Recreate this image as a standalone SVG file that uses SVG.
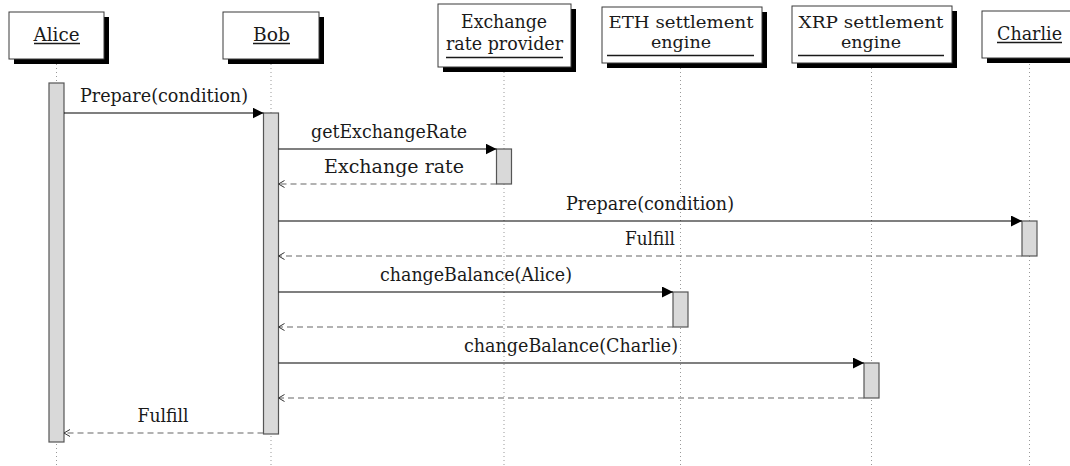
<svg xmlns="http://www.w3.org/2000/svg" width="1070" height="466" viewBox="0 0 1070 466">
  <defs>
    <marker id="callHead" markerUnits="userSpaceOnUse" markerWidth="12" markerHeight="12" refX="11" refY="5.5" orient="auto">
      <path d="M0,0 L11,5.5 L0,11 z" fill="#000"/>
    </marker>
    <marker id="returnHead" markerUnits="userSpaceOnUse" markerWidth="10" markerHeight="10" refX="7" refY="4" orient="auto">
      <path d="M1,0.5 L7,4 L1,7.5" fill="none" stroke="#333" stroke-width="1"/>
    </marker>
  </defs>
  <style>
    text { font-family: 'DejaVu Serif', 'Liberation Serif', serif; font-size: 19px; fill: #1a1a1a; }
    .label { text-anchor: middle; }
    .tight { font-size: 17px; }
    .box { fill: #fff; stroke: #3a3a3a; stroke-width: 1; }
    .shadow { fill: #000; }
    .uline { stroke: #1a1a1a; stroke-width: 1.3; }
    .lifeline { stroke: #999; stroke-width: 1; stroke-dasharray: 1 3; }
    .act { fill: #d9d9d9; stroke: #555; stroke-width: 1.2; }
    .call { stroke: #000; stroke-width: 1.1; fill: none; marker-end: url(#callHead); }
    .ret { stroke: #666; stroke-width: 1.1; fill: none; stroke-dasharray: 6 4; marker-end: url(#returnHead); }
  </style>
  <rect width="1070" height="466" fill="#fff"/>

  <!-- lifelines -->
  <g id="lifelines">
    <line class="lifeline" x1="56.5" y1="60" x2="56.5" y2="466"/>
    <line class="lifeline" x1="271" y1="60" x2="271" y2="466"/>
    <line class="lifeline" x1="504" y1="68" x2="504" y2="466"/>
    <line class="lifeline" x1="680.5" y1="64" x2="680.5" y2="466"/>
    <line class="lifeline" x1="871.5" y1="64" x2="871.5" y2="466"/>
    <line class="lifeline" x1="1029.5" y1="60" x2="1029.5" y2="466"/>
  </g>

  <!-- participants -->
  <g id="alice">
    <rect class="shadow" x="14" y="17" width="95" height="47"/>
    <rect class="box" x="9" y="12" width="95" height="47"/>
    <text class="label" x="56.5" y="40.5" textLength="46" lengthAdjust="spacingAndGlyphs">Alice</text>
    <line class="uline" x1="34" y1="43.5" x2="80" y2="43.5"/>
  </g>
  <g id="bob">
    <rect class="shadow" x="228" y="17" width="96" height="47"/>
    <rect class="box" x="223" y="12" width="96" height="47"/>
    <text class="label" x="271.5" y="40.5" textLength="37" lengthAdjust="spacingAndGlyphs">Bob</text>
    <line class="uline" x1="253" y1="43.5" x2="290" y2="43.5"/>
  </g>
  <g id="exchange">
    <rect class="shadow" x="443" y="9" width="133" height="63"/>
    <rect class="box" x="438" y="4" width="133" height="63"/>
    <text class="label"><tspan x="504" y="28" textLength="86" lengthAdjust="spacingAndGlyphs">Exchange</tspan><tspan x="504.5" y="49.5" textLength="117" lengthAdjust="spacingAndGlyphs">rate provider</tspan></text>
    <line class="uline" x1="446" y1="57.5" x2="563" y2="57.5"/>
  </g>
  <g id="eth">
    <rect class="shadow" x="607" y="12" width="160" height="56"/>
    <rect class="box" x="602" y="7" width="160" height="56"/>
    <text class="label tight"><tspan x="681" y="28" textLength="145" lengthAdjust="spacingAndGlyphs">ETH settlement</tspan><tspan x="681" y="48" textLength="60" lengthAdjust="spacingAndGlyphs">engine</tspan></text>
    <line class="uline" x1="607" y1="55.5" x2="754" y2="55.5"/>
  </g>
  <g id="xrp">
    <rect class="shadow" x="797" y="11" width="160" height="57"/>
    <rect class="box" x="792" y="6" width="160" height="57"/>
    <text class="label tight"><tspan x="871" y="27.5" textLength="145" lengthAdjust="spacingAndGlyphs">XRP settlement</tspan><tspan x="871" y="47.5" textLength="60" lengthAdjust="spacingAndGlyphs">engine</tspan></text>
    <line class="uline" x1="798" y1="55.5" x2="944" y2="55.5"/>
  </g>
  <g id="charlie">
    <rect class="shadow" x="987" y="16" width="95" height="47"/>
    <rect class="box" x="982" y="11" width="95" height="47"/>
    <text class="label" x="1029.5" y="39.5" textLength="65" lengthAdjust="spacingAndGlyphs">Charlie</text>
    <line class="uline" x1="997" y1="42.5" x2="1062" y2="42.5"/>
  </g>

  <!-- activation bars -->
  <g id="activations">
    <rect class="act" x="49" y="83" width="15" height="359"/>
    <rect class="act" x="263.5" y="113" width="15" height="321"/>
    <rect class="act" x="496.5" y="149" width="15" height="35"/>
    <rect class="act" x="1022" y="221" width="15" height="35"/>
    <rect class="act" x="673" y="292" width="15" height="35"/>
    <rect class="act" x="864" y="363" width="15" height="35"/>
  </g>

  <!-- messages -->
  <g id="connectors">
    <line class="call" x1="64" y1="113" x2="263.5" y2="113"/>
    <text class="label" x="164" y="102" textLength="168" lengthAdjust="spacingAndGlyphs">Prepare(condition)</text>

    <line class="call" x1="278.5" y1="149" x2="496.5" y2="149"/>
    <text class="label" x="389" y="138" textLength="156" lengthAdjust="spacingAndGlyphs">getExchangeRate</text>

    <line class="ret" x1="496.5" y1="184" x2="278.5" y2="184"/>
    <text class="label" x="394" y="173" textLength="140" lengthAdjust="spacingAndGlyphs">Exchange rate</text>

    <line class="call" x1="278.5" y1="221" x2="1022" y2="221"/>
    <text class="label" x="650" y="210" textLength="168" lengthAdjust="spacingAndGlyphs">Prepare(condition)</text>

    <line class="ret" x1="1022" y1="256" x2="278.5" y2="256"/>
    <text class="label" x="650" y="245" textLength="50" lengthAdjust="spacingAndGlyphs">Fulfill</text>

    <line class="call" x1="278.5" y1="292" x2="673" y2="292"/>
    <text class="label" x="476" y="281" textLength="192" lengthAdjust="spacingAndGlyphs">changeBalance(Alice)</text>

    <line class="ret" x1="673" y1="327" x2="278.5" y2="327"/>

    <line class="call" x1="278.5" y1="363" x2="864" y2="363"/>
    <text class="label" x="571" y="352" textLength="214" lengthAdjust="spacingAndGlyphs">changeBalance(Charlie)</text>

    <line class="ret" x1="864" y1="398" x2="278.5" y2="398"/>

    <line class="ret" x1="263.5" y1="433" x2="64" y2="433"/>
    <text class="label" x="163" y="422" textLength="51" lengthAdjust="spacingAndGlyphs">Fulfill</text>
  </g>
</svg>
